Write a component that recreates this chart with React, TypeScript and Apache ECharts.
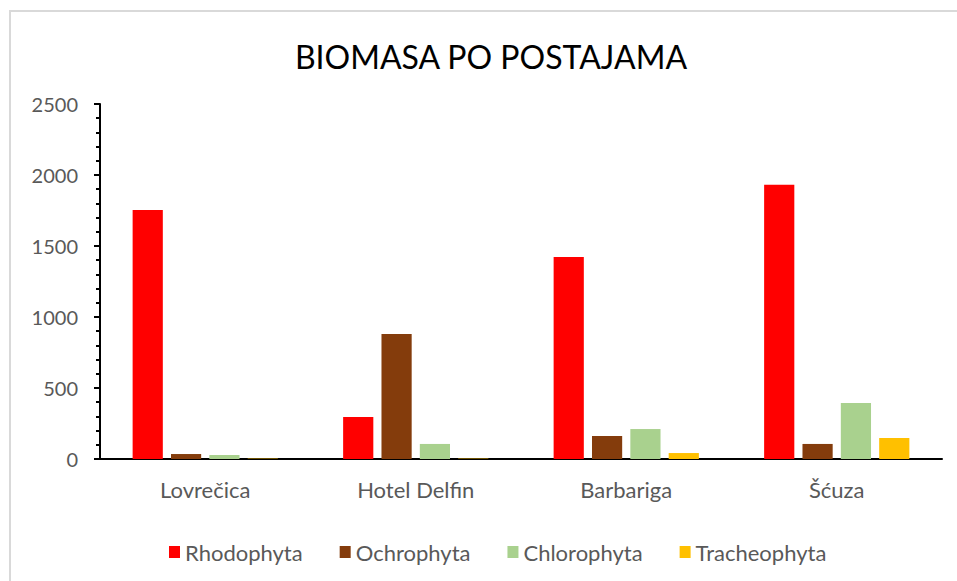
import React, { useEffect, useRef } from "react";
import * as echarts from "echarts";

const categories = ["Lovrečica", "Hotel Delfin", "Barbariga", "Šćuza"];
const rhodophyta = [1753, 296, 1423, 1932];
const ochrophyta = [35, 880, 162, 106];
const chlorophyta = [28, 106, 211, 394];
const tracheophyta = [3, 3, 42, 148];
const seriesNames = ["Rhodophyta", "Ochrophyta", "Chlorophyta", "Tracheophyta"];
const seriesColors = ["#FF0000", "#843C0C", "#A9D18E", "#FFC000"];
const yTicks = [0, 500, 1000, 1500, 2000, 2500];

export default function App() {
  const ref = useRef<HTMLDivElement>(null);
  useEffect(() => {
    document.body.style.margin = "0";
    const chart = echarts.init(ref.current!, undefined, { renderer: "svg" });
    const data = [rhodophyta, ochrophyta, chlorophyta, tracheophyta];
    const font = "Lato, 'Noto Sans', sans-serif";
    chart.setOption({
      animation: false,
      backgroundColor: "#ffffff",
      title: {
        text: "BIOMASA PO POSTAJAMA",
        left: 486,
        top: 35,
        textAlign: "center",
        textStyle: { fontFamily: font, fontSize: 32, fontWeight: "normal", color: "#000000" },
      },
      legend: {
        data: seriesNames,
        left: 164,
        top: 536,
        itemWidth: 11,
        itemHeight: 12,
        itemGap: 37,
        icon: "rect",
        textStyle: { fontFamily: font, fontSize: 22, color: "#595959" },
      },
      graphic: [
        {
          type: "rect",
          shape: { x: 10, y: 11, width: 960, height: 600 },
          style: { fill: "none", stroke: "#d9d9d9", lineWidth: 2 },
          silent: true,
        },
      ],
      grid: { left: 100, right: 15, top: 104, bottom: 122 },
      xAxis: {
        type: "category",
        data: categories,
        axisLine: { lineStyle: { color: "#000000", width: 2 } },
        axisTick: { show: false },
        axisLabel: { fontFamily: font, fontSize: 22, color: "#595959", margin: 19 },
      },
      yAxis: {
        type: "value",
        min: yTicks[0],
        max: yTicks[yTicks.length - 1],
        interval: 500,
        axisLine: { show: true, lineStyle: { color: "#000000", width: 2 } },
        axisTick: { show: true, length: 6, lineStyle: { color: "#000000", width: 2 } },
        minorTick: { show: true, splitNumber: 5, length: 4, lineStyle: { color: "#000000", width: 2 } },
        splitLine: { show: false },
        axisLabel: {
          fontFamily: font,
          fontSize: 20,
          color: "#595959",
          margin: 22,
          formatter: (v: number) => String(v),
        },
      },
      series: seriesNames.map((name, i) => ({
        name,
        type: "bar",
        data: data[i],
        itemStyle: { color: seriesColors[i] },
        barGap: "27%",
        barCategoryGap: "31%",
      })),
    });
    return () => chart.dispose();
  }, []);
  return <div ref={ref} style={{ width: 957, height: 581 }} />;
}
